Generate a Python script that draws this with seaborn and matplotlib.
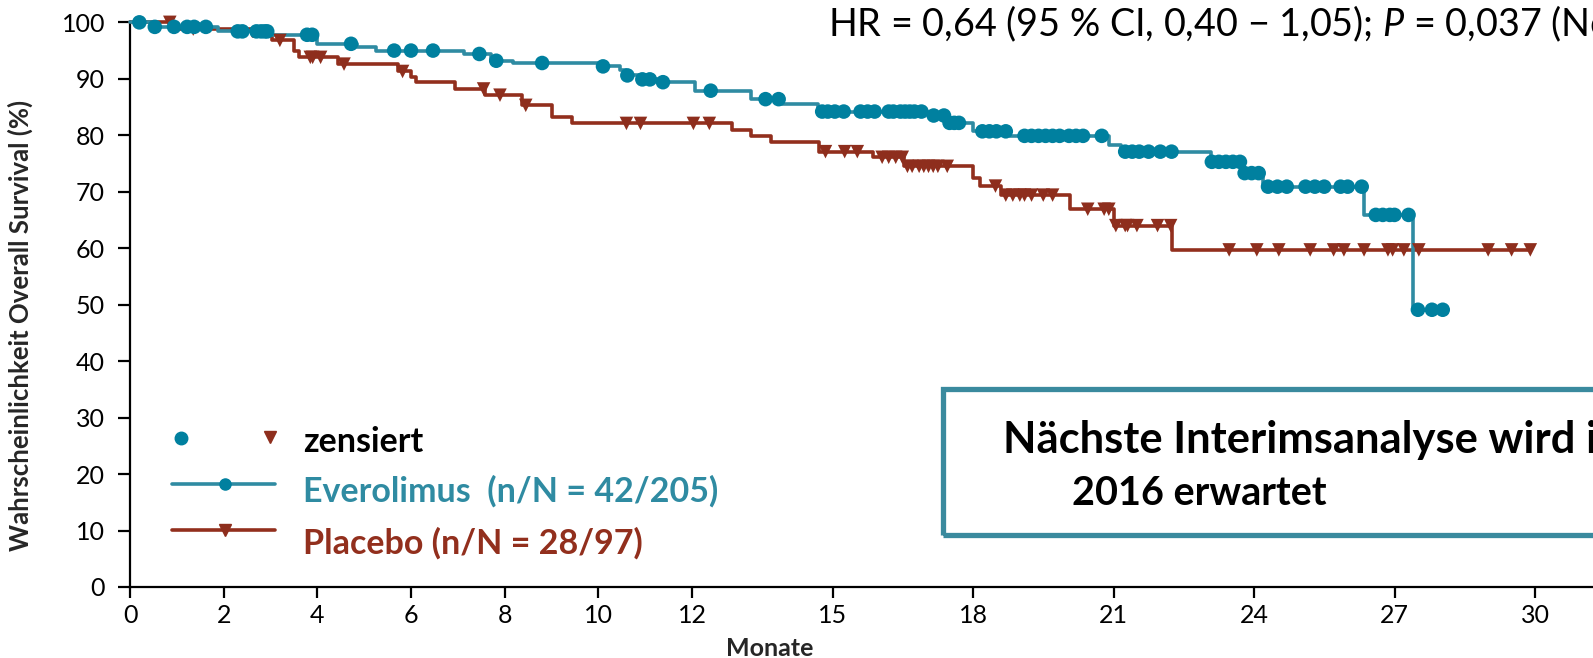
import numpy as np
import pandas as pd
import matplotlib
matplotlib.use("Agg")
import matplotlib.pyplot as plt
import seaborn as sns
from matplotlib.patches import Rectangle

# ---------------- data ----------------
evero_event_months = [0.45, 1.88, 2.95, 4.0, 4.85, 5.25, 7.14, 7.7, 8.17, 10.07, 10.47, 10.6,
                      10.9, 11.3, 12.07, 13.25, 13.9, 14.7, 17.1, 17.4, 18.0, 18.8, 20.9, 21.15,
                      23.08, 23.75, 24.2, 26.35, 27.4]
evero_event_surv = [99.2, 98.4, 97.8, 96.2, 95.7, 95.0, 94.4, 93.2, 92.8, 92.2, 91.5, 90.6,
                    89.9, 89.4, 87.9, 86.4, 85.6, 84.2, 83.5, 82.2, 80.7, 79.9, 78.3, 77.1,
                    75.3, 73.3, 70.9, 65.9, 49.1]
evero_end = 28.03
evero_censored = [0.2, 0.53, 0.94, 1.22, 1.37, 1.62, 2.3, 2.4, 2.7, 2.8, 2.88, 2.93, 3.78, 3.89,
                  4.72, 5.64, 6.0, 6.47, 7.46, 7.82, 8.8, 10.1, 10.62, 10.94, 11.1, 11.38, 12.4,
                  13.57, 13.85, 14.78, 14.9, 15.05, 15.24, 15.6, 15.75, 15.9, 16.2, 16.3, 16.45,
                  16.55, 16.65, 16.75, 16.9, 17.16, 17.38, 17.5, 17.6, 17.7, 18.2, 18.35, 18.5,
                  18.7, 19.1, 19.25, 19.4, 19.55, 19.7, 19.85, 20.05, 20.2, 20.35, 20.75, 21.25,
                  21.4, 21.55, 21.75, 22.0, 22.24, 23.1, 23.25, 23.4, 23.55, 23.7, 23.8, 23.95,
                  24.1, 24.3, 24.5, 24.7, 25.1, 25.3, 25.5, 25.85, 26.0, 26.3, 26.6, 26.75, 26.9,
                  27.0, 27.3, 27.5, 27.8, 28.03]

placebo_event_months = [0.95, 2.63, 3.03, 3.5, 3.6, 4.44, 5.72, 6.0, 6.1, 6.94, 7.58, 8.37, 9.0,
                        9.44, 12.86, 13.25, 13.68, 14.72, 15.87, 16.52, 18.0, 18.14, 18.6, 20.08,
                        21.0, 22.25]
placebo_event_surv = [98.8, 97.6, 96.8, 95.0, 93.8, 92.6, 91.3, 90.4, 89.4, 88.2, 87.1, 85.3, 83.2,
                      82.1, 80.9, 79.8, 78.8, 77.1, 76.1, 74.5, 72.4, 71.0, 69.4, 66.9,
                      64.0, 59.7]
placebo_end = 29.9
placebo_censored = [0.85, 1.35, 3.2, 3.85, 3.9, 4.07, 4.57, 5.82, 7.55, 7.9, 8.45, 10.6, 10.9,
                    12.03, 12.37, 14.85, 15.26, 15.53, 16.06, 16.2, 16.35, 16.49, 16.6, 16.7,
                    16.85, 16.95, 17.05, 17.15, 17.25, 17.45, 18.48, 18.7, 18.85, 19.0, 19.1,
                    19.25, 19.5, 19.7, 20.45, 20.8, 20.9, 21.05, 21.25, 21.3, 21.5, 21.94, 22.22,
                    23.47, 24.06, 24.53, 25.2, 25.7, 25.92, 26.35, 26.86, 26.96, 27.2, 27.52,
                    29.0, 29.5, 29.9]

x_ticks = [0, 2, 4, 6, 8, 10, 12, 15, 18, 21, 24, 27, 30]
y_ticks = [0, 10, 20, 30, 40, 50, 60, 70, 80, 90, 100]

evero_label = "Everolimus  (n/N = 42/205)"
placebo_label = "Placebo (n/N = 28/97)"
censor_label = "zensiert"
hr_text = "HR = 0,64 (95 % CI, 0,40 \u2212 1,05); $\\mathit{P}$ = 0,037 (Nominal)"
box_line1 = "N\u00e4chste Interimsanalyse wird in"
box_line2 = "2016 erwartet"
y_label = "Wahrscheinlichkeit Overall Survival (%)"
x_label = "Monate"

# ---------------- style ----------------
BLUE_LINE = "#2F8BA2"
BLUE_MARK = "#00809F"
RED_LINE = "#922F1D"
RED_MARK = "#8E2E1D"
BOX_COL = "#3A8A9E"

sns.set_theme(style="ticks")
plt.rcParams['font.family'] = ['Lato', 'DejaVu Sans']
plt.rcParams['mathtext.fontset'] = 'custom'
plt.rcParams['mathtext.rm'] = 'Lato'
plt.rcParams['mathtext.it'] = 'Lato:italic'


def km_frame(months, surv, end):
    xs = [0.0] + list(months) + [end]
    ys = [100.0] + list(surv) + [surv[-1]]
    return pd.DataFrame({"Monate": xs, "S": ys})


def surv_at(times, months, surv):
    months = np.asarray(months)
    out = []
    for t in times:
        i = np.searchsorted(months, t, side="right") - 1
        out.append(100.0 if i < 0 else surv[i])
    return pd.DataFrame({"Monate": times, "S": out})


W, H = 1593, 658
fig = plt.figure(figsize=(W / 100, H / 100), dpi=100)
x0px, x30px = 130, 1535
ppm = (x30px - x0px) / 30.0
y0px, y100px = 587, 22.35
ax = fig.add_axes([x0px / W, (H - y0px) / H, (W + 2 - x0px) / W, (y0px - y100px) / H])

ev = km_frame(evero_event_months, evero_event_surv, evero_end)
pl = km_frame(placebo_event_months, placebo_event_surv, placebo_end)

sns.lineplot(data=pl, x="Monate", y="S", drawstyle="steps-post", estimator=None, sort=False,
             color=RED_LINE, lw=2.6, ax=ax, clip_on=False, zorder=2)
sns.lineplot(data=ev, x="Monate", y="S", drawstyle="steps-post", estimator=None, sort=False,
             color=BLUE_LINE, lw=2.6, ax=ax, clip_on=False, zorder=3)

pc = surv_at(placebo_censored, placebo_event_months, placebo_event_surv)
ec = surv_at(evero_censored, evero_event_months, evero_event_surv)
sns.scatterplot(data=pc, x="Monate", y="S", marker="v", s=95, color=RED_MARK, edgecolor="none",
                ax=ax, clip_on=False, zorder=4)
sns.scatterplot(data=ec, x="Monate", y="S", marker="o", s=110, color=BLUE_MARK, edgecolor="none",
                ax=ax, clip_on=False, zorder=5)

ax.set_xlim(0, (W + 2 - x0px) / ppm)
ax.set_ylim(0, 100)
ax.set_xticks(x_ticks)
ax.set_xticklabels([str(t) for t in x_ticks])
ax.set_yticks(y_ticks)
ax.set_yticklabels([str(t) for t in y_ticks])
ax.set_xlabel("")
ax.set_ylabel("")
ax.spines["top"].set_visible(False)
ax.spines["right"].set_visible(False)
for s in ("left", "bottom"):
    ax.spines[s].set_linewidth(1.6)
    ax.spines[s].set_color("black")
ax.tick_params(axis="both", width=1.6, color="black", labelsize=18, labelcolor="black")
ax.tick_params(axis="x", length=8, pad=4)
ax.tick_params(axis="y", length=9, pad=9)

# legend (manual, as in the reference)
ax.plot([1.08], [26.3], marker="o", ms=9, color=BLUE_MARK, ls="none", clip_on=False)
ax.plot([2.99], [26.6], marker="v", ms=9, color=RED_MARK, ls="none", clip_on=False)
ax.text(3.69, 25.7, censor_label, fontsize=24.5, fontweight="bold", color="black", va="center")
ax.plot([0.9, 3.1], [18.2, 18.2], color=BLUE_LINE, lw=2.6)
ax.plot([2.02], [18.2], marker="o", ms=8, color=BLUE_MARK)
ax.text(3.69, 16.9, evero_label, fontsize=24.5, fontweight="bold", color=BLUE_LINE, va="center")
ax.plot([0.9, 3.1], [10.1, 10.1], color=RED_LINE, lw=2.6)
ax.plot([2.02], [10.1], marker="v", ms=8, color=RED_MARK)
ax.text(3.69, 7.8, placebo_label, fontsize=24.5, fontweight="bold", color=RED_LINE, va="center")

# annotation box
ax.add_patch(Rectangle((17.36, 9.2), 20, 25.8, fill=False, edgecolor=BOX_COL, lw=3.8,
                       clip_on=False, zorder=1))
ax.text(18.64, 26.0, box_line1, fontsize=31.3, fontweight="bold", color="black", va="center",
        ha="left", clip_on=False)
ax.text(22.83, 16.6, box_line2, fontsize=28.5, fontweight="bold", color="black", va="center",
        ha="center", clip_on=False)

fig.text(828 / W, 1 - 24 / H, hr_text, fontsize=27.2, color="black", va="center", ha="left")
fig.text(20 / W, 1 - 325 / H, y_label, fontsize=18.5, fontweight="bold", rotation=90,
         va="center", ha="center")
fig.text(770 / W, 1 - 649 / H, x_label, fontsize=18, fontweight="bold", va="center", ha="center")

fig.savefig("out.png", dpi=100)
